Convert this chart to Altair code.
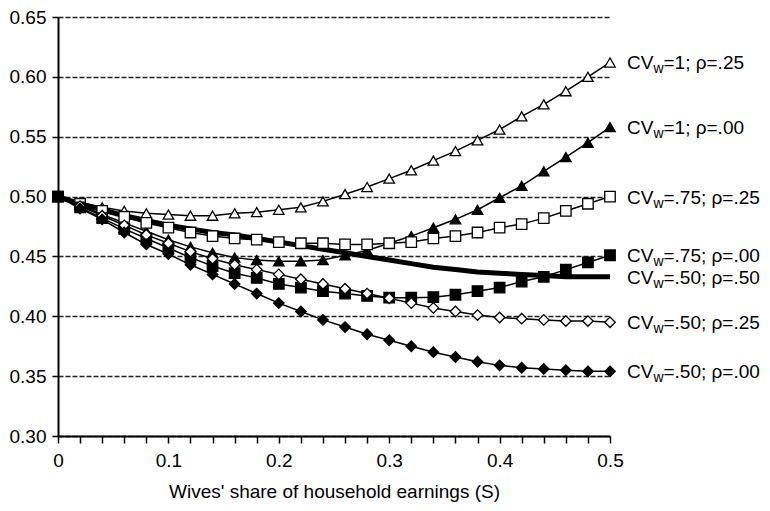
import altair as alt
import pandas as pd

S = [0.00, 0.02, 0.04, 0.06, 0.08, 0.10, 0.12, 0.14, 0.16, 0.18, 0.20, 0.22, 0.24,
     0.26, 0.28, 0.30, 0.32, 0.34, 0.36, 0.38, 0.40, 0.42, 0.44, 0.46, 0.48, 0.50]

cv1_r25 = [0.500, 0.495, 0.491, 0.488, 0.486, 0.485, 0.484, 0.484, 0.486, 0.487, 0.489, 0.491, 0.496,
           0.502, 0.508, 0.515, 0.522, 0.530, 0.538, 0.547, 0.556, 0.567, 0.577, 0.588, 0.600, 0.612]
cv1_r00 = [0.500, 0.493, 0.485, 0.478, 0.471, 0.464, 0.458, 0.453, 0.449, 0.447, 0.446, 0.446, 0.447,
           0.451, 0.455, 0.461, 0.467, 0.474, 0.481, 0.489, 0.499, 0.509, 0.521, 0.533, 0.545, 0.558]
cv75_r25 = [0.500, 0.494, 0.488, 0.483, 0.478, 0.474, 0.470, 0.467, 0.465, 0.464, 0.462, 0.461, 0.461,
            0.460, 0.460, 0.461, 0.462, 0.465, 0.467, 0.470, 0.474, 0.477, 0.482, 0.488, 0.494, 0.500]
cv75_r00 = [0.500, 0.491, 0.482, 0.473, 0.465, 0.457, 0.449, 0.442, 0.436, 0.432, 0.427, 0.424, 0.421,
            0.419, 0.417, 0.4155, 0.4155, 0.416, 0.418, 0.421, 0.424, 0.429, 0.433, 0.439, 0.445, 0.451]
cv50_r50 = [0.500, 0.494, 0.489, 0.484, 0.480, 0.476, 0.473, 0.470, 0.468, 0.465, 0.462, 0.459, 0.456,
            0.453, 0.450, 0.447, 0.444, 0.441, 0.439, 0.437, 0.436, 0.435, 0.434, 0.433, 0.433, 0.433]
cv50_r25 = [0.500, 0.492, 0.484, 0.476, 0.468, 0.461, 0.454, 0.448, 0.443, 0.439, 0.435, 0.431, 0.427,
            0.423, 0.419, 0.415, 0.411, 0.407, 0.404, 0.401, 0.399, 0.398, 0.397, 0.396, 0.396, 0.395]
cv50_r00 = [0.500, 0.490, 0.481, 0.470, 0.460, 0.452, 0.443, 0.435, 0.427, 0.419, 0.411, 0.404, 0.397,
            0.391, 0.385, 0.380, 0.375, 0.370, 0.366, 0.362, 0.359, 0.357, 0.356, 0.355, 0.354, 0.354]

series_names = ["cv1_r25", "cv1_r00", "cv75_r25", "cv75_r00", "cv50_r50", "cv50_r25", "cv50_r00"]
series_values = [cv1_r25, cv1_r00, cv75_r25, cv75_r00, cv50_r50, cv50_r25, cv50_r00]
label_rest = ["=1; ρ=.25", "=1; ρ=.00", "=.75; ρ=.25", "=.75; ρ=.00", "=.50; ρ=.50", "=.50; ρ=.25", "=.50; ρ=.00"]
shapes = ["triangle-up", "triangle-up", "square", "square", "circle", "diamond", "diamond"]
fills = ["white", "black", "white", "black", "black", "white", "black"]
thick_series = ["cv50_r50"]
marker_series = ["cv1_r25", "cv1_r00", "cv75_r25", "cv75_r00", "cv50_r25", "cv50_r00"]

x_ticks = [0.00, 0.02, 0.04, 0.06, 0.08, 0.10, 0.12, 0.14, 0.16, 0.18, 0.20, 0.22, 0.24,
           0.26, 0.28, 0.30, 0.32, 0.34, 0.36, 0.38, 0.40, 0.42, 0.44, 0.46, 0.48, 0.50]
y_ticks = [0.30, 0.35, 0.40, 0.45, 0.50, 0.55, 0.60, 0.65]

rows = []
for name, vals in zip(series_names, series_values):
    for s, v in zip(S, vals):
        rows.append({"S": s, "v": v, "series": name})
df = pd.DataFrame(rows)

labels = pd.DataFrame({
    "S": [0.5] * len(series_names),
    "v": [vals[-1] for vals in series_values],
    "series": series_names,
    "rest": label_rest,
})

FONT = "Liberation Sans"

x_axis = alt.Axis(values=x_ticks, title="Wives' share of household earnings (S)",
                  labelExpr="abs(datum.value*10 - round(datum.value*10)) < 0.001 ? format(datum.value, '.1~f') : ''",
                  labelOverlap=False, labelFlush=False, grid=False,
                  tickSize=7, labelPadding=8, titlePadding=12)
y_axis = alt.Axis(values=y_ticks, format=".2f", title=None, grid=True,
                  gridDash=[5, 2], gridColor="#222", gridWidth=1.3,
                  tickSize=6, labelPadding=6)
x_scale = alt.Scale(domain=[0, 0.5], nice=False)
y_scale = alt.Scale(domain=[0.30, 0.65], nice=False, zero=False)

def X():
    return alt.X("S:Q", scale=x_scale, axis=x_axis)

def Y():
    return alt.Y("v:Q", scale=y_scale, axis=y_axis)

base = alt.Chart(df)

thin_lines = base.transform_filter(
    alt.FieldOneOfPredicate(field="series", oneOf=marker_series)
).mark_line(color="black", strokeWidth=1.5).encode(x=X(), y=Y(), detail="series:N")

thick_line = base.transform_filter(
    alt.FieldOneOfPredicate(field="series", oneOf=thick_series)
).mark_line(color="black", strokeWidth=5).encode(x=X(), y=Y(), detail="series:N")

points = base.transform_filter(
    alt.FieldOneOfPredicate(field="series", oneOf=marker_series)
).mark_point(stroke="black", strokeWidth=1.3, fillOpacity=1, opacity=1, size=110).encode(
    x=X(), y=Y(),
    shape=alt.Shape("series:N", scale=alt.Scale(domain=series_names, range=shapes), legend=None),
    fill=alt.Fill("series:N", scale=alt.Scale(domain=series_names, range=fills), legend=None),
)

lab_base = alt.Chart(labels)
t_cv = lab_base.mark_text(align="left", baseline="alphabetic", dx=17, dy=7, fontSize=19, font=FONT, color="black").encode(
    x=X(), y=Y(), text=alt.value("CV"))
t_w = lab_base.mark_text(align="left", baseline="alphabetic", dx=43.5, dy=11, fontSize=14, font=FONT, color="black").encode(
    x=X(), y=Y(), text=alt.value("w"))
t_rest = lab_base.mark_text(align="left", baseline="alphabetic", dx=53.5, dy=7, fontSize=19, font=FONT, color="black").encode(
    x=X(), y=Y(), text="rest:N")

chart = alt.layer(thin_lines, thick_line, points, t_cv, t_w, t_rest).properties(
    width=552, height=419,
    autosize=alt.AutoSizeParams(type="none"),
    padding={"left": 50, "top": 9, "right": 150, "bottom": 80},
    background="white",
).configure_view(stroke=None).configure_axis(
    labelFont=FONT, titleFont=FONT, labelFontSize=19, titleFontSize=19,
    labelColor="black", titleColor="black", titleFontWeight="normal",
    domainColor="black", tickColor="black", domainWidth=2, tickWidth=1.5,
)

chart.save("out.html", embed_options={"renderer": "svg", "actions": False})
